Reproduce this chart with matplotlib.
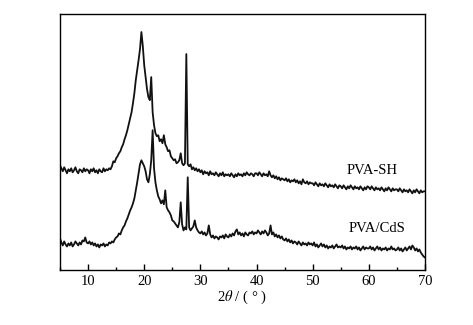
import numpy as np
import matplotlib
matplotlib.use("Agg")
import matplotlib.pyplot as plt

plt.rcParams['font.family'] = ['Liberation Serif', 'DejaVu Serif']
plt.rcParams['mathtext.fontset'] = 'stix'

# 2theta sampled every 0.25 deg from 5 to 70
two_theta = np.arange(5, 70.001, 0.25)

pva_sh = [
    105, 102, 99, 103, 100, 97, 101, 99, 102, 98, 100, 103, 99, 97, 101, 100, 98, 102, 99, 101,
    100, 97, 101, 99, 102, 98, 100, 97, 101, 99, 98, 102, 99, 101, 100, 102, 101, 104, 109, 108,
    112, 114, 117, 119, 123, 126, 131, 135, 140, 146, 152, 158, 167, 177, 190, 200, 210, 221, 238, 224,
    205, 193, 181, 173, 170, 193, 158, 145, 137, 134, 135, 129, 131, 127, 135, 126, 123, 119, 120, 114,
    112, 110, 111, 107, 108, 110, 117, 107, 105, 107, 216, 106, 104, 106, 101, 103, 100, 102, 99, 101,
    98, 100, 96, 99, 97, 98, 95, 99, 96, 97, 95, 98, 96, 94, 97, 95, 98, 94, 96, 95,
    96, 94, 97, 95, 93, 96, 94, 97, 95, 96, 94, 97, 95, 98, 96, 95, 97, 96, 94, 97,
    97, 95, 98, 96, 94, 97, 95, 96, 94, 99, 95, 93, 95, 92, 94, 91, 93, 90, 92, 91,
    90, 92, 89, 91, 88, 90, 89, 91, 88, 90, 87, 89, 86, 91, 88, 87, 89, 86, 88, 87,
    87, 85, 88, 86, 84, 87, 85, 86, 84, 87, 85, 83, 86, 84, 85, 83, 86, 84, 82, 85,
    84, 82, 85, 83, 81, 84, 82, 85, 83, 81, 84, 82, 83, 81, 84, 82, 80, 83, 81, 84,
    83, 81, 84, 82, 80, 83, 81, 82, 80, 83, 81, 79, 82, 80, 83, 81, 79, 82, 80, 81,
    81, 79, 82, 80, 78, 81, 79, 80, 78, 81, 79, 77, 80, 78, 81, 79, 77, 80, 78, 79,
    79,
]

pva_cds = [
    32, 28, 25, 29, 26, 24, 27, 25, 28, 24, 26, 29, 27, 25, 28, 26, 30, 29, 33, 28,
    27, 29, 26, 28, 25, 27, 24, 26, 23, 26, 25, 27, 24, 26, 25, 28, 27, 29, 28, 31,
    33, 34, 37, 36, 40, 43, 45, 49, 52, 56, 60, 63, 67, 72, 80, 88, 97, 106, 110, 107,
    104, 99, 91, 88, 96, 110, 140, 102, 88, 80, 74, 71, 67, 70, 66, 80, 63, 60, 58, 55,
    50, 49, 47, 45, 43, 48, 68, 46, 40, 43, 41, 93, 43, 40, 42, 44, 50, 43, 40, 38,
    37, 39, 36, 38, 35, 37, 45, 36, 33, 35, 32, 34, 33, 31, 34, 33, 35, 32, 36, 34,
    33, 36, 34, 37, 35, 39, 41, 36, 38, 35, 37, 34, 38, 36, 35, 38, 37, 39, 36, 38,
    37, 40, 38, 36, 39, 37, 40, 38, 35, 37, 45, 36, 38, 34, 36, 33, 35, 32, 34, 31,
    30, 32, 29, 31, 28, 30, 27, 29, 28, 26, 29, 27, 25, 28, 26, 27, 25, 28, 26, 27,
    25, 28, 24, 26, 23, 25, 27, 24, 26, 23, 25, 22, 24, 23, 25, 22, 24, 26, 23, 24,
    23, 25, 22, 24, 21, 23, 22, 24, 21, 23, 22, 24, 21, 23, 20, 22, 24, 21, 23, 22,
    22, 24, 21, 23, 20, 22, 24, 21, 23, 20, 22, 21, 23, 20, 22, 21, 24, 21, 22, 20,
    21, 23, 20, 22, 19, 21, 23, 20, 22, 24, 21, 25, 23, 20, 22, 19, 21, 18, 16, 14,
    13,
]

fig = plt.figure(figsize=(4.73, 3.25), dpi=100)
ax = fig.add_axes([0.1268, 0.1677, 0.7717, 0.7893])

ax.plot(two_theta, pva_sh, color='#111111', lw=1.3)
ax.plot(two_theta, pva_cds, color='#111111', lw=1.3)

ax.text(60.5, 100, 'PVA-SH', fontsize=10.5, ha='center', va='center')
ax.text(61.4, 42, 'PVA/CdS', fontsize=10.5, ha='center', va='center')

ax.set_xlim(5, 70)
ax.set_ylim(0, 256)
ax.set_xticks(range(10, 71, 10))
ax.set_xticks(range(5, 71, 5), minor=True)
ax.set_yticks([])
ax.tick_params(axis='x', which='major', direction='in', length=4, width=1,
               labelsize=10.5, pad=3)
ax.tick_params(axis='x', which='minor', direction='in', length=2, width=1)
for s in ax.spines.values():
    s.set_linewidth(1.0)
ax.set_xlabel(r'2$\theta$ / ( ° )', fontsize=10.5, labelpad=1)

fig.savefig('out.png', dpi=100)
